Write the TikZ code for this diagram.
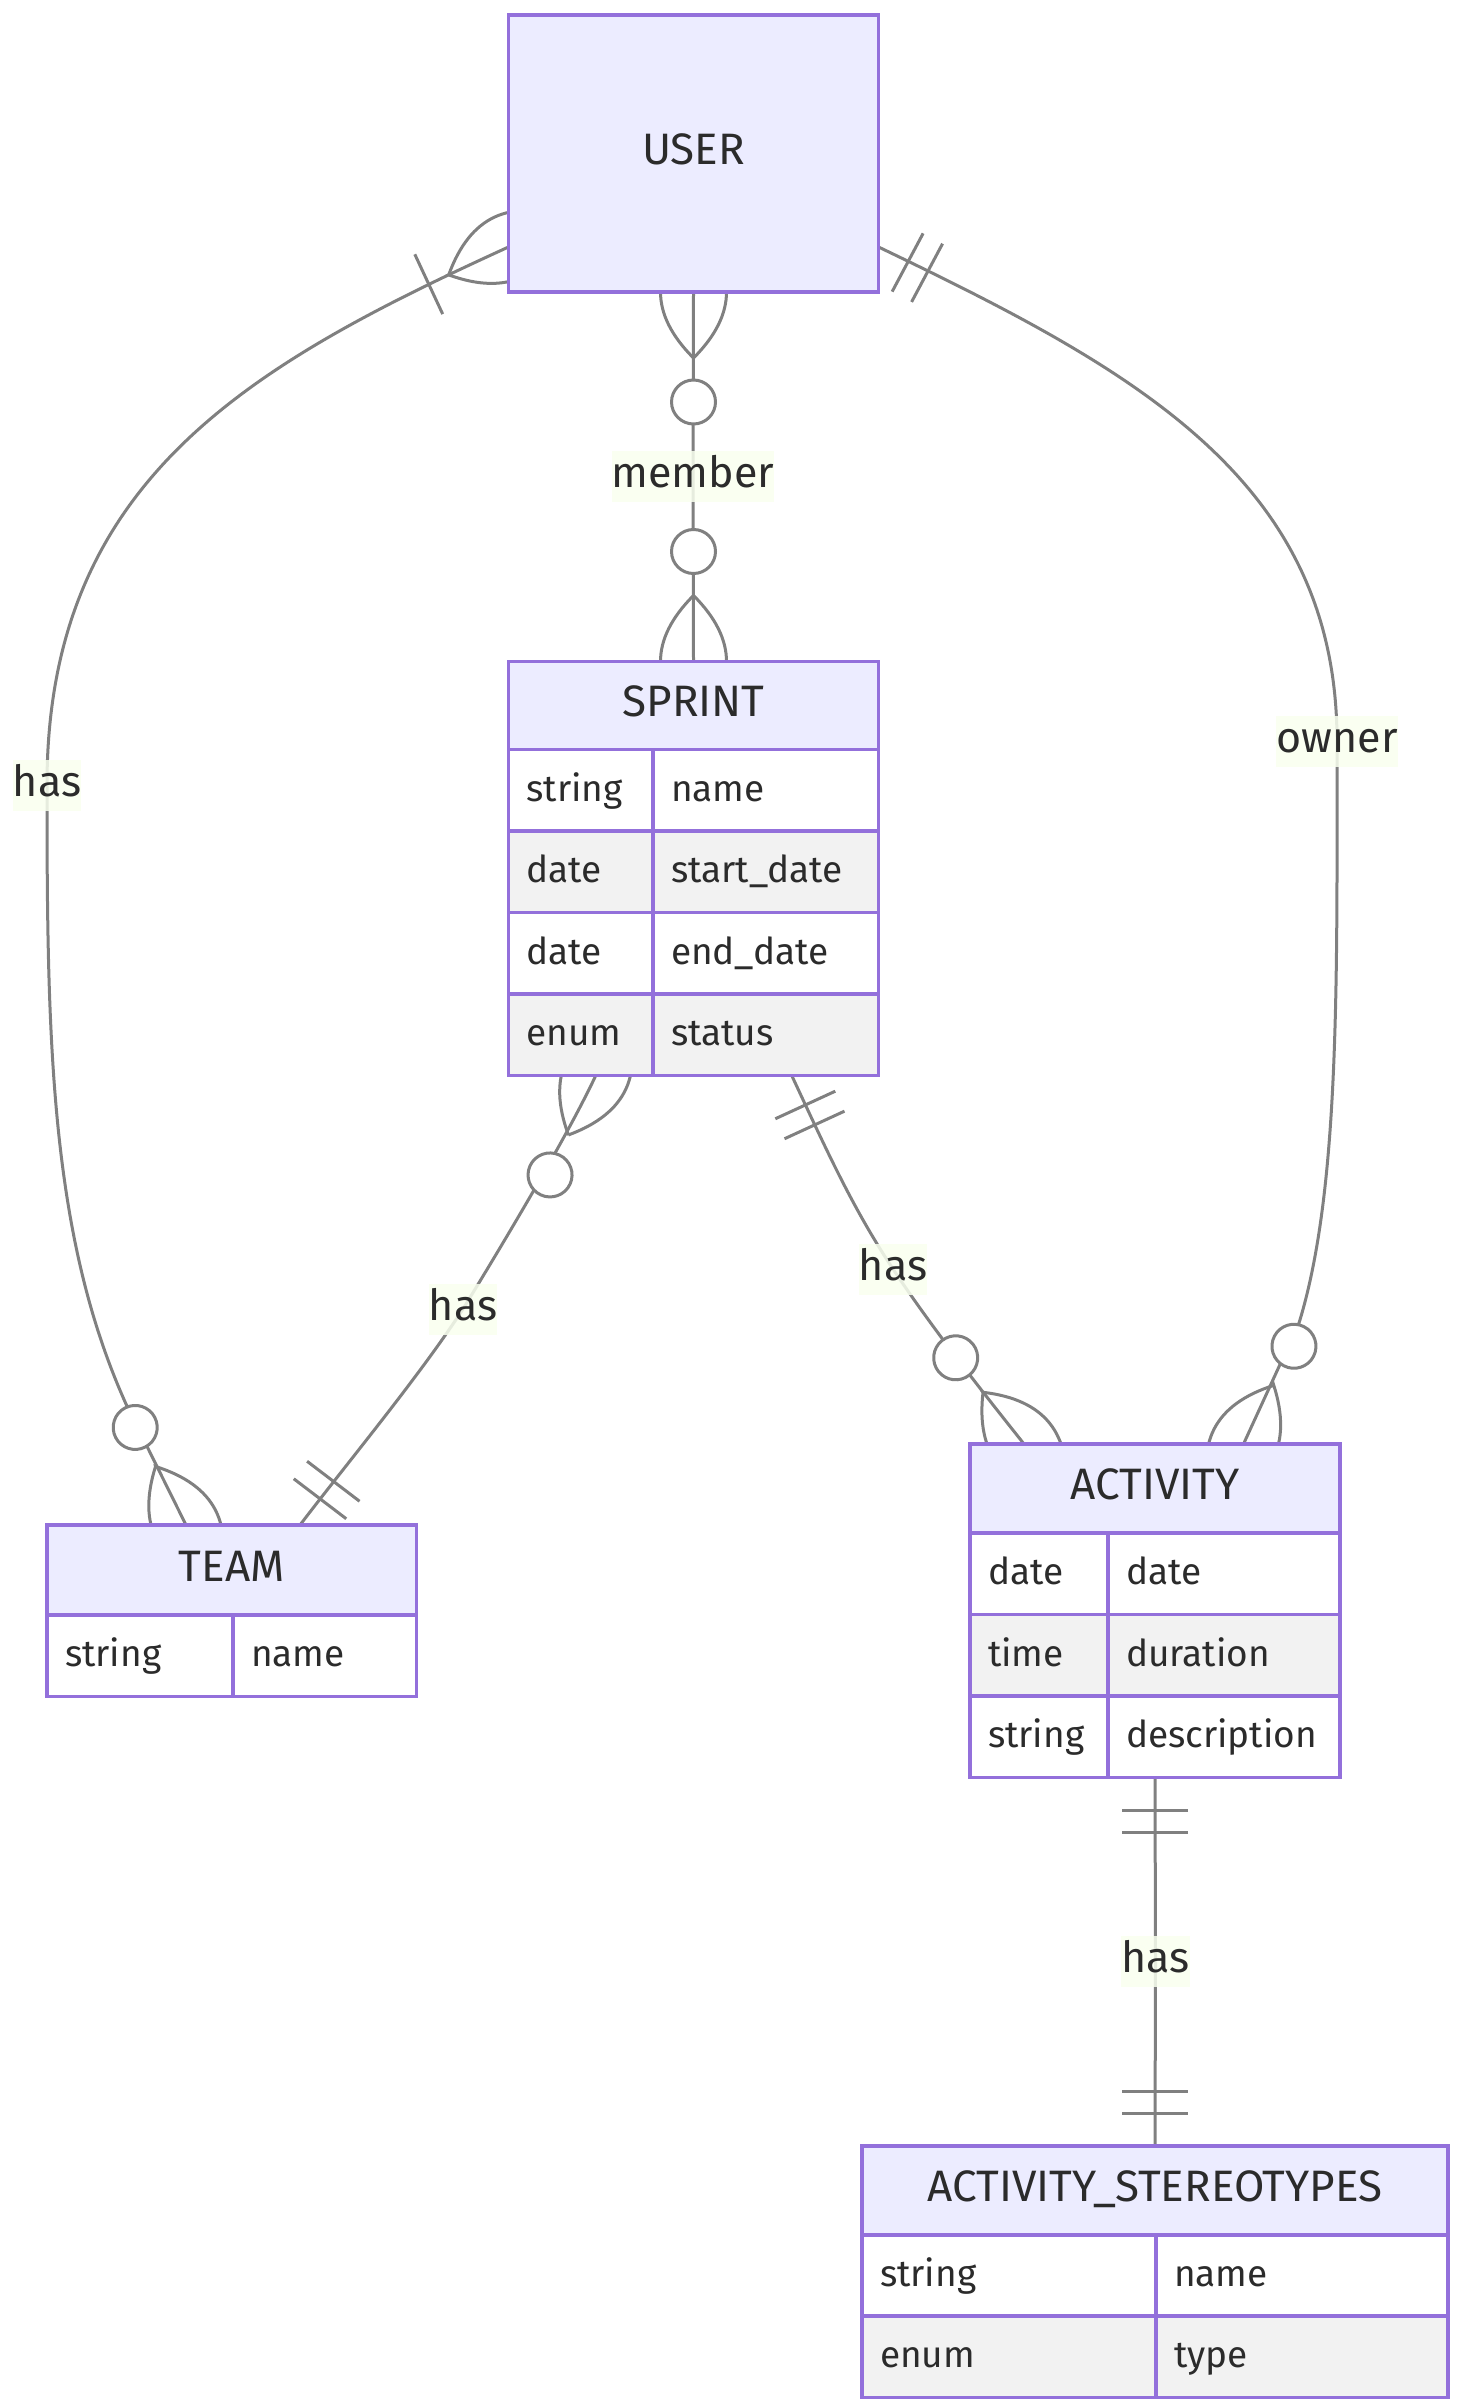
\documentclass[tikz,border=0pt]{standalone}
\usepackage{fontspec}
\setmainfont{Fira Sans}
\usetikzlibrary{backgrounds}
\definecolor{c1}{HTML}{9370DB}
\definecolor{c2}{HTML}{ECECFF}
\definecolor{c3}{HTML}{F2F2F2}
\definecolor{c4}{HTML}{808080}
\definecolor{c5}{HTML}{F9FFEF}
\definecolor{c6}{HTML}{2B2B2B}
\tikzset{
	box/.style={draw=c1, line width=1.7pt, outer sep=0, anchor=north west, text=c6},
	head/.style={box, fill=c2, font=\fontsize{22}{26}\selectfont, text height=16pt, text depth=5pt, inner sep=0},
	cell/.style={box, fill=white, font=\fontsize{18.5}{22}\selectfont, text height=15pt, text depth=4pt, inner xsep=9pt, inner ysep=0, align=left, text width=#1-18pt, minimum width=#1, minimum height=40.75pt},
	alt/.style={cell=#1, fill=c3},
	lbl/.style={fill=c5, fill opacity=0.85, text opacity=1, text=c6, font=\fontsize{21.5}{25}\selectfont, text height=16pt, text depth=5pt, inner xsep=0, inner ysep=2.25pt},
	link/.style={draw=c4, line width=1.5pt},
	zeromany/.pic={
		\draw [link] (66, 0) .. controls (22, 44) and (-22, 44) .. (-66, 0) .. controls (-22, -44) and (22, -44) .. cycle;
		\draw [link, fill=white] (110, 0) circle (22);
	},
	onemany/.pic={
		\draw [link] (66, 0) .. controls (22, 44) and (-22, 44) .. (-66, 0) .. controls (-22, -44) and (22, -44) .. cycle;
		\draw [link] (88, -33) -- (88, 33);
	},
	oneonly/.pic={
		\draw [link] (33, -33) -- (33, 33);
		\draw [link] (55, -33) -- (55, 33);
	},
}
\begin{document}
\begin{tikzpicture}[x=0.5pt, y=-0.5pt]
	\useasboundingbox (0, 0) rectangle (1456, 2407);

	\node [head, minimum width=185pt, minimum height=138.5pt] (user) at (508.5, 15) {USER};

	\node [head, minimum width=185pt, minimum height=44pt] (sprint) at (508.5, 661.5) {SPRINT};
	\node [cell=72.25pt] (sa) at (508.5, 749.5) {string};
	\node [cell=112.75pt] (sb) at (653, 749.5) {name};
	\node [alt=72.25pt] (sc) at (508.5, 831) {date};
	\node [alt=112.75pt] (sd) at (653, 831) {start\_date};
	\node [cell=72.25pt] (se) at (508.5, 912.5) {date};
	\node [cell=112.75pt] (sf) at (653, 912.5) {end\_date};
	\node [alt=72.25pt] (sg) at (508.5, 994) {enum};
	\node [alt=112.75pt] (sh) at (653, 994) {status};

	\node [head, minimum width=184.75pt, minimum height=45pt] (team) at (47, 1525) {TEAM};
	\node [cell=93pt] (ta) at (47, 1615) {string};
	\node [cell=91.75pt] (tb) at (233, 1615) {name};

	\node [head, minimum width=185pt, minimum height=44.5pt] (activity) at (970, 1444) {ACTIVITY};
	\node [cell=69pt] (aa) at (970, 1533) {date};
	\node [cell=116pt] (ab) at (1108, 1533) {date};
	\node [alt=69pt] (ac) at (970, 1614.5) {time};
	\node [alt=116pt] (ad) at (1108, 1614.5) {duration};
	\node [cell=69pt] (ae) at (970, 1696) {string};
	\node [cell=116pt] (af) at (1108, 1696) {description};

	\node [head, minimum width=293pt, minimum height=44.5pt] (stereo) at (862, 2146) {ACTIVITY\_STEREOTYPES};
	\node [cell=147pt] (oa) at (862, 2235) {string};
	\node [cell=146pt] (ob) at (1156, 2235) {name};
	\node [alt=147pt] (oc) at (862, 2316) {enum};
	\node [alt=146pt] (od) at (1156, 2316) {type};

	\node [lbl] (has1) at (47, 785) {has};
	\node [lbl] (member) at (693, 476.5) {member};
	\node [lbl] (has2) at (463, 1309) {has};
	\node [lbl] (has3) at (893, 1269) {has};
	\node [lbl] (owner) at (1337, 741) {owner};
	\node [lbl] (has4) at (1155.5, 1961.5) {has};

	\coordinate (U1) at (508.5, 247);
	\coordinate (U2) at (878.5, 247);
	\coordinate (S1) at (596, 1075);
	\coordinate (S2) at (791.5, 1075);
	\coordinate (T0) at (126, 1404);
	\coordinate (T1) at (186, 1525);
	\coordinate (T2) at (300, 1525);
	\coordinate (A0) at (1299, 1323);
	\coordinate (A1) at (1024, 1444);
	\coordinate (A2) at (1243.5, 1444);

	\begin{scope}[on background layer]
		\draw [link] (U1) .. controls (250, 365) and (47, 480) .. (has1.center) .. controls (47, 1040) and (50, 1235) .. (T0) -- (T1);
		\draw [link] (user.south) -- (member.center) -- (sprint.north);
		\draw [link] (S1) .. controls (568, 1135) and (504, 1242) .. (has2.center) .. controls (418, 1378) and (348, 1462) .. (T2);
		\draw [link] (S2) .. controls (826, 1149) and (852, 1207) .. (has3.center) .. controls (934, 1331) and (989.5, 1400.5) .. (A1);
		\draw [link] (U2) .. controls (1135, 370) and (1337, 480) .. (owner.center) .. controls (1337, 981) and (1340, 1190) .. (A0) -- (A2);
		\draw [link] (af.south -| stereo.north) -- (has4.center) -- (stereo.north);
		\pic [rotate=205] at (U1) {onemany};
		\pic [rotate=270] at (user.south) {zeromany};
		\pic [rotate=90] at (sprint.north) {zeromany};
		\pic [rotate=245.3] at (S1) {zeromany};
		\pic [rotate=117.5] at (T1) {zeromany};
		\pic [rotate=52.7] at (T2) {oneonly};
		\pic [rotate=-65.3] at (S2) {oneonly};
		\pic [rotate=128.4] at (A1) {zeromany};
		\pic [rotate=-28] at (U2) {oneonly};
		\pic [rotate=62.7] at (A2) {zeromany};
		\pic [rotate=-90] at (af.south -| stereo.north) {oneonly};
		\pic [rotate=90] at (stereo.north) {oneonly};
	\end{scope}
\end{tikzpicture}
\end{document}
